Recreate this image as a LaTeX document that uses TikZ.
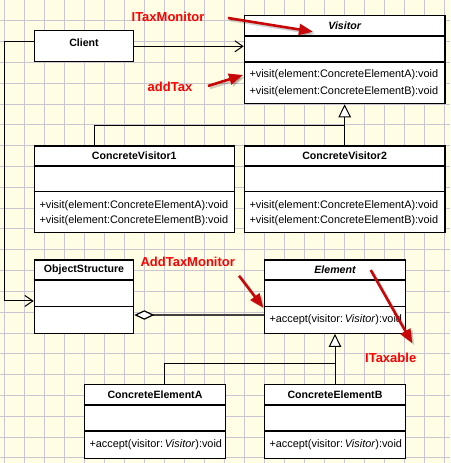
\documentclass[tikz,border=0pt]{standalone}
\usepackage{fontspec}
\setmainfont{Liberation Sans}
\usetikzlibrary{arrows.meta}
\definecolor{bgcol}{RGB}{255,253,228}
\definecolor{gridcol}{RGB}{202,197,208}
\definecolor{arrred}{RGB}{200,8,8}
\definecolor{lblred}{RGB}{255,0,0}
\tikzset{
  cls/.style={draw=black, line width=1.2pt, fill=white, rectangle, inner sep=0pt},
  divl/.style={draw=black, line width=1.1pt},
  clsname/.style={font=\fontsize{10.6}{12}\selectfont\bfseries, inner sep=0pt},
  opt/.style={font=\fontsize{10.9}{12}\selectfont, anchor=west, inner sep=0pt},
  redlbl/.style={text=lblred, font=\fontsize{13}{15}\selectfont\bfseries, inner sep=0pt},
  redarr/.style={line width=2.6pt, draw=arrred, -{Triangle[length=14pt,width=11pt]}},
  redshadow/.style={line width=2.6pt, draw=black, opacity=0.18, -{Triangle[length=14pt,width=11pt]}},
  assoc/.style={draw=black, line width=1pt, -{Straight Barb[length=8pt,width=11pt]}},
  gen/.style={draw=black, line width=1pt, -{Triangle[open,length=13pt,width=12.5pt,fill=white]}},
  plain/.style={draw=black, line width=1pt},
  agg/.style={draw=black!75, line width=1.8pt, {Diamond[open,length=20pt,width=9.5pt,fill=white,line width=1.2pt,color=black]}-}
}
\begin{document}
\begin{tikzpicture}[x=1pt,y=-1pt]
\useasboundingbox (0,0) rectangle (450,463);
% background grid
\fill[bgcol] (0,0) rectangle (450,463);
\foreach \gx in {4,24,...,444} \draw[gridcol, line width=0.9pt] (\gx,0) -- (\gx,463);
\foreach \k in {1,...,22} \draw[gridcol, line width=0.9pt] (0,{-0.1+20.82*\k}) -- (450,{-0.1+20.82*\k});

% Client
\node[cls, minimum width=99.4pt, minimum height=30.6pt] (client) at (84,46) {};
\node[clsname] (clientname) at (84,43) {Client};

% Visitor
\node[cls, minimum width=200.7pt, minimum height=88.4pt] (visitor) at (344.65,59.5) {};
\draw[divl] (visitor.west |- 0,36) -- (visitor.east |- 0,36);
\draw[divl] (visitor.west |- 0,62) -- (visitor.east |- 0,62);
\node[clsname] (visitorname) at (344.65,25.65) {\itshape Visitor};
\node[opt] (vop1) at (249.3,75) {+visit(element:ConcreteElementA):void};
\node[opt] (vop2) at (249.3,91.7) {+visit(element:ConcreteElementB):void};

% ConcreteVisitor1
\node[cls, minimum width=200pt, minimum height=86.7pt] (cv1) at (134.3,189.35) {};
\draw[divl] (cv1.west |- 0,166) -- (cv1.east |- 0,166);
\draw[divl] (cv1.west |- 0,191.7) -- (cv1.east |- 0,191.7);
\node[clsname] (cv1name) at (134.3,156) {ConcreteVisitor1};
\node[opt] (cv1op1) at (39.3,205.7) {+visit(element:ConcreteElementA):void};
\node[opt] (cv1op2) at (39.3,221) {+visit(element:ConcreteElementB):void};

% ConcreteVisitor2
\node[cls, minimum width=200.7pt, minimum height=86.7pt] (cv2) at (344.65,189.35) {};
\draw[divl] (cv2.west |- 0,166) -- (cv2.east |- 0,166);
\draw[divl] (cv2.west |- 0,191.7) -- (cv2.east |- 0,191.7);
\node[clsname] (cv2name) at (344.65,156) {ConcreteVisitor2};
\node[opt] (cv2op1) at (249.3,205.7) {+visit(element:ConcreteElementA):void};
\node[opt] (cv2op2) at (249.3,221) {+visit(element:ConcreteElementB):void};

% ObjectStructure
\node[cls, minimum width=99.4pt, minimum height=73.3pt] (os) at (84,296.65) {};
\draw[divl] (os.west |- 0,280) -- (os.east |- 0,280);
\draw[divl] (os.west |- 0,306.7) -- (os.east |- 0,306.7);
\node[clsname] (osname) at (84,270) {ObjectStructure};

% Element
\node[cls, minimum width=141.4pt, minimum height=73.3pt] (elem) at (335,296.65) {};
\draw[divl] (elem.west |- 0,280) -- (elem.east |- 0,280);
\draw[divl] (elem.west |- 0,306.7) -- (elem.east |- 0,306.7);
\node[clsname] (elemname) at (335,270) {\itshape Element};
\node[opt] (elemop) at (269.3,319.5) {+accept(visitor:\,\textit{Visitor}):void};

% ConcreteElementA
\node[cls, minimum width=141.4pt, minimum height=74pt] (cea) at (155,421.3) {};
\draw[divl] (cea.west |- 0,405) -- (cea.east |- 0,405);
\draw[divl] (cea.west |- 0,431) -- (cea.east |- 0,431);
\node[clsname] (ceaname) at (155,394.65) {ConcreteElementA};
\node[opt] (ceaop) at (89.3,445) {+accept(visitor:\,\textit{Visitor}):void};

% ConcreteElementB
\node[cls, minimum width=141.4pt, minimum height=74pt] (ceb) at (335,421.3) {};
\draw[divl] (ceb.west |- 0,405) -- (ceb.east |- 0,405);
\draw[divl] (ceb.west |- 0,431) -- (ceb.east |- 0,431);
\node[clsname] (cebname) at (335,394.65) {ConcreteElementB};
\node[opt] (cebop) at (269.3,445) {+accept(visitor:\,\textit{Visitor}):void};

% Connectors
\draw[assoc] ([yshift=-0.3pt]client.east) -- ([yshift=-0.3pt]client.east -| visitor.west);
\coordinate (leftrail) at (4,41.3);
\draw[assoc] ([yshift=4.7pt]client.west) -- (leftrail) |- ([yshift=-4.3pt]os.west);
\draw[agg] (os.east |- 0,315) -- (elem.west |- 0,315);

\coordinate (vj) at (344.65,125);
\draw[gen] (cv2.north) -- (visitor.south);
\draw[plain] (cv1.north west -| 94.3,0) |- (vj);

\coordinate (ej) at (335,363.3);
\draw[gen] (ceb.north) -- (elem.south);
\draw[plain] (cea.north west -| 164.3,0) |- (ej);

% Red annotations
\node[redlbl] (lbl1) at (168,16.7) {ITaxMonitor};
\node[redlbl] (lbl2) at (170,86.7) {addTax};
\node[redlbl] (lbl3) at (187.7,261.7) {AddTaxMonitor};
\node[redlbl] (lbl4) at (390.7,358.3) {ITaxable};

\coordinate (a1s) at (228,18);   \coordinate (a1e) at (313,31.7);
\coordinate (a2s) at (208,86);   \coordinate (a2e) at (243,75);
\coordinate (a3s) at (239,275.7); \coordinate (a3e) at (263.3,307.7);
\coordinate (a4s) at (370.7,270); \coordinate (a4e) at (412.3,343.3);
\foreach \s/\e in {a1s/a1e,a2s/a2e,a3s/a3e,a4s/a4e}{
  \draw[redshadow] ([xshift=2pt,yshift=-2pt]\s) -- ([xshift=2pt,yshift=-2pt]\e);
  \draw[redarr] (\s) -- (\e);
}
\end{tikzpicture}
\end{document}
